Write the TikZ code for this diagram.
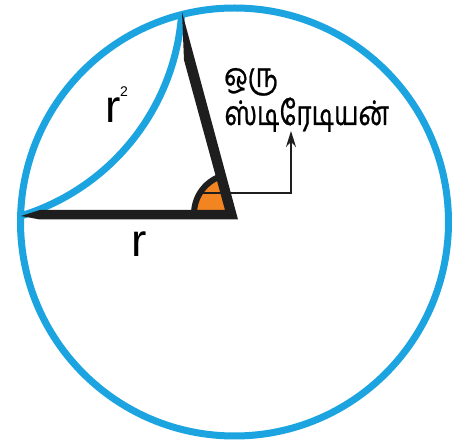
\documentclass[tikz,border=0pt]{standalone}
\usepackage{fontspec}
\setmainfont{Liberation Sans}
\newfontfamily\tamilfont[Script=Tamil,FakeBold=0.8]{Hind Madurai}
\usetikzlibrary{arrows.meta,calc}
\definecolor{cblue}{RGB}{28,164,224}
\definecolor{corange}{RGB}{242,133,34}
\definecolor{cblack}{RGB}{30,30,30}
\tikzset{
  bluestroke/.style={draw=cblue, line width=7pt},
  wedge/.style={fill=cblack, draw=none},
  pointer/.style={draw=cblack, line width=1.5pt, -{Stealth[length=16pt,width=10pt]}},
  lbl/.style={inner sep=0pt, font=\fontsize{46}{46}\selectfont},
  tamil/.style={inner sep=0pt, anchor=base west, font=\tamilfont\fontsize{26}{28}\selectfont}
}
\begin{document}
\begin{tikzpicture}[x=1pt,y=-1pt]
\useasboundingbox (0,0) rectangle (453,443);
\fill[white] (0,0) rectangle (453,443);
\coordinate (O) at (234.5,222);
\coordinate (V) at (234,214);
\coordinate (L) at (21,216);
\coordinate (T) at (182,12);
\coordinate (A0) at (194,214);
% big circle
\draw[bluestroke] (O) circle[radius=214pt];
% inner arc of length r
\draw[bluestroke] plot[domain=4:72.7, samples=60, smooth] ({-45.8+228*cos(\x)}, {-2.1+228*sin(\x)});
% angle marker
\fill[corange] (V) -- (A0) arc[start angle=180, end angle=104, radius=40pt] -- cycle;
\draw[cblack, line width=6pt] (A0) arc[start angle=180, end angle=104, radius=40pt];
% radii wedges
\fill[wedge] (L) -- (40,210) -- (225,210) -- (184,60) -- (T) -- (238,219.5) -- (40,219.5) -- cycle;
% pointer
\coordinate (P0) at (199,193);
\coordinate (P1) at (291,193);
\coordinate (P2) at (291,131);
\draw[pointer] (P0) -- (P1) -- (P2);
% labels
\node[lbl, anchor=base] (r1) at (139,257) {r};
\node[lbl, anchor=base] (r2) at (113,123) {r};
\node[inner sep=0pt, anchor=base west, font=\fontsize{14}{14}\selectfont] (sq) at (120,97) {2};
\node[tamil] (t1) at (224,87) {\scalebox{1}[1.3]{ஒரு}};
\node[tamil] (t2) at (224,125) {\scalebox{1}[1.3]{ஸ்டிரேடியன்}};
\end{tikzpicture}
\end{document}
